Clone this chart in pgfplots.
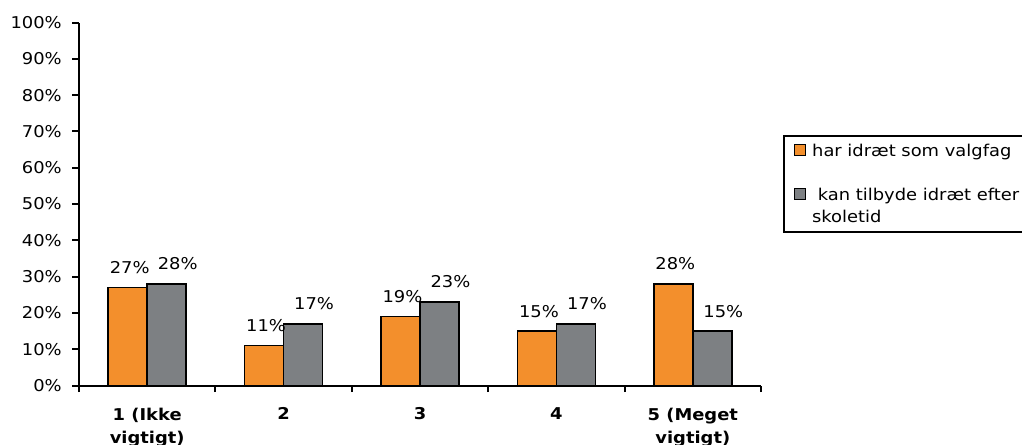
\documentclass[border=0pt]{standalone}
\usepackage{fontspec}
\setmainfont{DejaVu Sans}[FakeStretch=1.1]
\usepackage{pgfplots}
\pgfplotsset{compat=1.18}

\definecolor{barorange}{RGB}{243,143,44}
\definecolor{bargray}{RGB}{125,128,131}

\newcommand{\chartfont}{\fontsize{12.2}{17.25}\selectfont}

% legend keys: a small framed square on the first text line
\pgfplotsset{
  onelinekey/.style={legend image code/.code={\draw[##1, line width=1pt] (0pt,0.75pt) rectangle (8.25pt,9pt);}},
  % two-line entry: the node sits on its last baseline, so the key is raised one line
  twolinekey/.style={legend image code/.code={\draw[##1, line width=1pt] (0pt,16.95pt) rectangle (8.25pt,25.2pt);}},
}

\begin{document}
\begin{tikzpicture}
\begin{axis}[
  at={(59.25pt,43.875pt)}, anchor=south west,
  scale only axis,
  width=511.5pt, height=272.25pt,
  xmin=-0.5, xmax=4.5,
  ymin=0, ymax=100,
  axis lines=left,
  axis line style={-, line width=1.5pt, black},
  tick align=outside,
  major tick length=5pt,
  minor tick length=5pt,
  every tick/.style={black, line width=1.5pt},
  xtick={0,1,2,3,4},
  major x tick style={draw=none},
  minor xtick={-0.5,0.5,1.5,2.5,3.5,4.5},
  xticklabels={{1 (Ikke\\vigtigt)},2,3,4,{5 (Meget\\vigtigt)}},
  xticklabel style={font=\chartfont\bfseries, align=center, anchor=north, inner sep=0pt, yshift=-11.5pt},
  ytick={0,10,...,100},
  yticklabels={0\%,10\%,20\%,30\%,40\%,50\%,60\%,70\%,80\%,90\%,100\%},
  yticklabel style={font=\chartfont, anchor=east, inner sep=0pt, xshift=-7.75pt},
  ybar=0pt,
  bar width=29.25pt,
  /pgf/number format/assume math mode=true,
  nodes near coords={\pgfmathprintnumber{\pgfplotspointmeta}\%},
  nodes near coords style={font=\chartfont, anchor=south, inner sep=0pt, yshift=9.75pt},
  legend style={
    at={(1.032,0.690)}, anchor=north west,
    draw=black, line width=1.5pt,
    inner xsep=7.5pt, inner ysep=6pt,
    font=\fontsize{12.2}{16.2}\selectfont,
    nodes={align=left, inner sep=0pt, anchor=base west},
    /tikz/every odd column/.style={column sep=4.5pt},
    /tikz/row sep=22pt,
  },
]
\addplot[fill=barorange, draw=black, line width=1.2pt, onelinekey,
  every node near coord/.append style={xshift=1.5pt}]
  coordinates {(0,27) (1,11) (2,19) (3,15) (4,28)};
\addlegendentry{har idræt som valgfag}
\addplot[fill=bargray, draw=black, line width=1.2pt, twolinekey,
  every node near coord/.append style={xshift=8.25pt}]
  coordinates {(0,28) (1,17) (2,23) (3,17) (4,15)};
\addlegendentry{\ kan tilbyde idræt efter\\skoletid}
\end{axis}
\pgfresetboundingbox
\useasboundingbox (0,0) rectangle (766.5pt,333pt);
\end{tikzpicture}
\end{document}
